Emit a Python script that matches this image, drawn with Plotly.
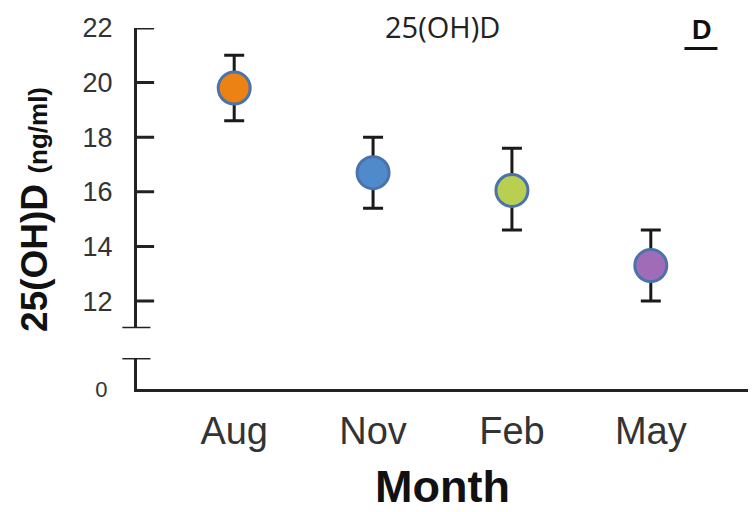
import plotly.graph_objects as go

# Serum 25(OH)D by sampling month: mean with error bar limits
months = ["Aug", "Nov", "Feb", "May"]
mean_25ohd = [19.8, 16.7, 16.05, 13.3]
upper_25ohd = [21.0, 18.0, 17.6, 14.6]
lower_25ohd = [18.6, 15.4, 14.6, 12.0]
marker_fill = ["#ec8114", "#4f8acb", "#b8cf52", "#a06cb8"]

y_ticks = [12, 14, 16, 18, 20, 22]
Y_RANGE = [11, 22]

err_plus = [u - m for u, m in zip(upper_25ohd, mean_25ohd)]
err_minus = [m - l for m, l in zip(mean_25ohd, lower_25ohd)]

AXIS_COL = "#222222"
FONT = "Liberation Sans, Arial, sans-serif"
X_RANGE = [-0.7, 3.7]

fig = go.Figure()
fig.add_trace(go.Scatter(
    x=list(range(len(months))),
    y=mean_25ohd,
    xaxis="x", yaxis="y",
    mode="markers",
    marker=dict(size=32, color=marker_fill,
                line=dict(color="#4a73aa", width=3)),
    error_y=dict(type="data", symmetric=False, array=err_plus,
                 arrayminus=err_minus, color="#1a1a1a",
                 thickness=3, width=10),
    showlegend=False,
    cliponaxis=False,
))

fig.update_layout(
    width=755, height=512,
    margin=dict(l=137, r=7, t=28, b=123),
    paper_bgcolor="white", plot_bgcolor="white",
    font=dict(family=FONT, color="#333333"),
    # x axis of the upper panel (hidden, shares range with the visible one)
    xaxis=dict(
        range=X_RANGE, anchor="y",
        showline=False, showticklabels=False, ticks="",
        showgrid=False, zeroline=False,
    ),
    # visible month axis along the zero baseline
    xaxis2=dict(
        range=X_RANGE, anchor="y2", matches="x",
        tickvals=list(range(len(months))),
        ticktext=months,
        ticks="", showgrid=False, zeroline=False,
        showline=True, linecolor=AXIS_COL, linewidth=3,
        tickfont=dict(size=38, color="#333333"),
        ticklabelstandoff=6,
        title=dict(text="<b>Month</b>", font=dict(size=45, color="#111111"),
                   standoff=22),
    ),
    # upper segment of the broken y axis
    yaxis=dict(
        domain=[0.168, 1.0],
        range=Y_RANGE,
        tickvals=y_ticks,
        ticks="",
        showgrid=False, zeroline=False,
        showline=True, linecolor=AXIS_COL, linewidth=3,
        tickfont=dict(size=27, color="#333333"),
        ticklabelstandoff=16,
        anchor="x",
    ),
    # lower segment holding the zero baseline
    yaxis2=dict(
        domain=[0.0, 0.086],
        range=[0, 1.13],
        tickvals=[0],
        ticks="", showgrid=False, zeroline=False,
        showline=True, linecolor=AXIS_COL, linewidth=3,
        tickfont=dict(size=22, color="#333333"),
        ticklabelstandoff=22,
        anchor="x2",
    ),
)

# rightward tick marks on the upper y-axis segment
for t in y_ticks:
    fig.add_shape(type="line", xref="x domain", yref="y",
                  x0=0, x1=0.028, y0=t, y1=t,
                  line=dict(color=AXIS_COL, width=3))

# caps marking the break between the two y-axis segments
for xref, yref, yval in (("x domain", "y", Y_RANGE[0]), ("x2 domain", "y2", 1.13)):
    fig.add_shape(type="line", xref=xref, yref=yref,
                  x0=-0.024, x1=0.022, y0=yval, y1=yval,
                  line=dict(color=AXIS_COL, width=3))

fig.add_annotation(
    text="<b>25(OH)D</b> <span style='font-size:26px'><b>(ng/ml)</b></span>",
    xref="paper", yref="paper", x=-0.168, y=0.497,
    xanchor="center", yanchor="middle",
    textangle=-90, showarrow=False,
    font=dict(size=37, color="#111111", family=FONT),
)
fig.add_annotation(
    text="25(OH)D", xref="paper", yref="paper", x=0.50, y=1.003,
    xanchor="center", yanchor="middle",
    showarrow=False, font=dict(size=29, color="#222222", family="Open Sans"),
)
fig.add_annotation(
    text="<b>D</b>", xref="paper", yref="paper", x=0.924, y=0.994,
    xanchor="center", yanchor="middle",
    showarrow=False, font=dict(size=27, color="#111111", family=FONT),
)
fig.add_shape(type="line", xref="paper", yref="paper",
              x0=0.896, x1=0.950, y0=0.943, y1=0.943,
              line=dict(color="#111111", width=3))

fig.write_html("out.html")
